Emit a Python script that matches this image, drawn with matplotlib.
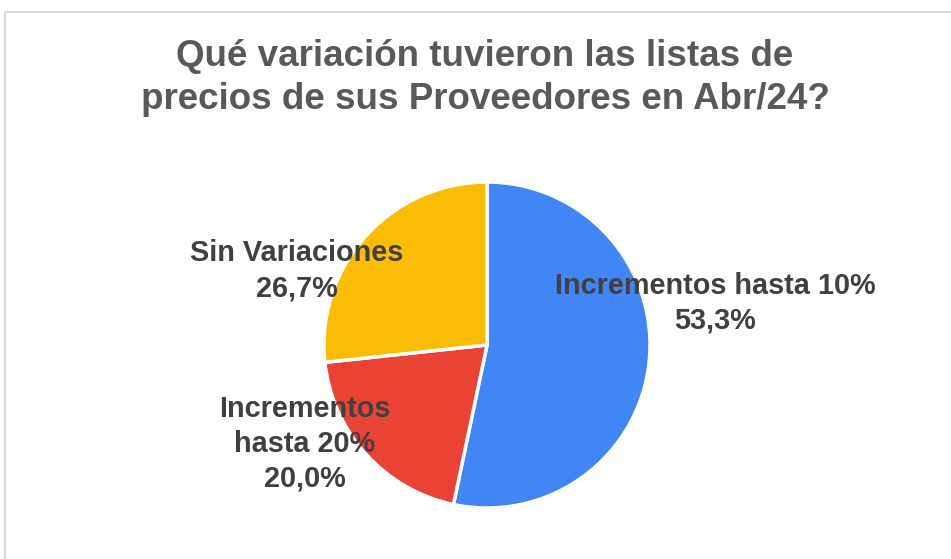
import matplotlib
matplotlib.use("Agg")
import matplotlib.pyplot as plt
from matplotlib.patches import Rectangle

title = "Qué variación tuvieron las listas de\nprecios de sus Proveedores en Abr/24?"
categories = ["Incrementos hasta 10%", "Incrementos\nhasta 20%", "Sin Variaciones"]
values = [53.3, 20.0, 26.7]
pct_labels = ["53,3%", "20,0%", "26,7%"]
colors = ["#4285F4", "#EA4335", "#FBBC04"]

W, H = 951, 559
fig = plt.figure(figsize=(W / 100, H / 100), dpi=100)
fig.patch.set_facecolor("white")

# pie geometry in pixels
cx, cy, r = 487, 345, 163
ax = fig.add_axes([0, 0, 1, 1])
ax.axis("off")

wedges, _ = ax.pie(values, colors=colors, startangle=90, counterclock=False,
                   radius=1.0, wedgeprops=dict(edgecolor="white", linewidth=2.5))
ax.set_xlim(-cx / r, (W - cx) / r)
ax.set_ylim(-(H - cy) / r, cy / r)
ax.set_aspect("auto")

font = ["Liberation Sans", "DejaVu Sans"]
label_pos = [(1.400, 0.255), (-1.117, -0.607), (-1.166, 0.455)]
for cat, pct, (lx, ly) in zip(categories, pct_labels, label_pos):
    ax.text(lx, ly, f"{cat}\n{pct}", ha="center", va="center", fontsize=20.8,
            fontweight="bold", color="#404040", family=font, linespacing=1.32)

fig.text(485 / W, 1 - 78 / H, title, ha="center", va="center", fontsize=26.5,
         fontweight="bold", color="#595959", family=font, linespacing=1.3)

fig.patches.append(Rectangle((5 / W, -0.1), 1.2, (H - 12) / H + 0.1,
                             transform=fig.transFigure, fill=False,
                             edgecolor="#D9D9D9", linewidth=1.5))

fig.savefig("out.png", dpi=100, facecolor="white")
